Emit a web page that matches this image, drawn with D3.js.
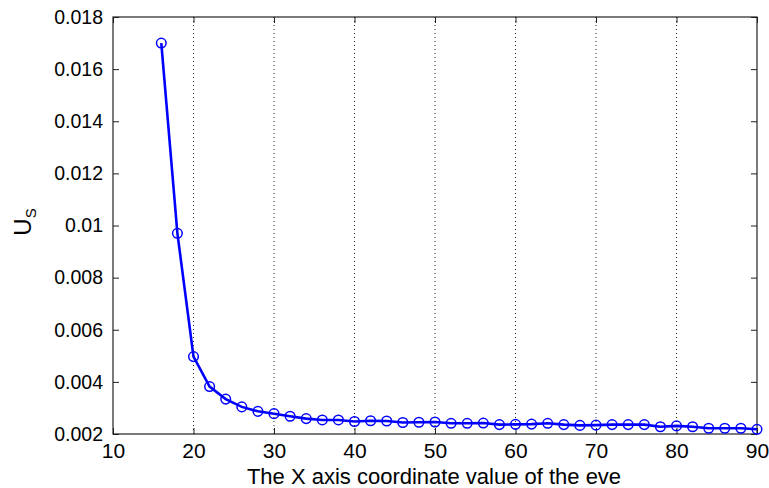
<!DOCTYPE html>
<html><head><meta charset="utf-8">
<script src="https://cdn.jsdelivr.net/npm/d3@7"></script>
<style>body{margin:0;background:#fff}svg{display:block}text{font-family:"Liberation Sans",Arial,sans-serif}</style>
</head><body><svg id="c" width="769" height="488"></svg>
<script>
const xValues = [16,18,20,22,24,26,28,30,32,34,36,38,40,42,44,46,48,50,52,54,56,58,60,62,64,66,68,70,72,74,76,78,80,82,84,86,88,90];
const usValues = [0.01700,0.00970,0.00497,0.00382,0.00334,0.00304,0.00287,0.00278,0.00268,0.00259,0.00254,0.00254,0.00248,0.00251,0.00250,0.00244,0.00245,0.00246,0.00241,0.00241,0.00242,0.00236,0.00237,0.00238,0.00241,0.00236,0.00233,0.00234,0.00236,0.00236,0.00236,0.00228,0.00231,0.00228,0.00222,0.00222,0.00222,0.00218];
const xTicks = [10,20,30,40,50,60,70,80,90];
const yTicks = [0.002,0.004,0.006,0.008,0.01,0.012,0.014,0.016,0.018];
const xLabel = "The X axis coordinate value of the eve";

const svg = d3.select("#c");
const L=113, R=757, T=17, B=434;
const x = d3.scaleLinear().domain([10,90]).range([L,R]);
const y = d3.scaleLinear().domain([0.002,0.018]).range([B,T]);

// grid
svg.append("g").selectAll("line").data(xTicks.slice(1,-1)).join("line")
  .attr("x1",d=>x(d)).attr("x2",d=>x(d)).attr("y1",T).attr("y2",B)
  .attr("stroke","#222").attr("stroke-width",1).attr("stroke-dasharray","1,3");

const fmt = d => String(+d.toFixed(3));
const tl = 6;
svg.append("g").attr("transform",`translate(0,${B})`)
  .call(d3.axisBottom(x).tickValues(xTicks).tickSizeInner(-tl).tickSizeOuter(0).tickPadding(9))
  .call(g=>{g.select(".domain").remove();g.selectAll("text").attr("font-size",21).attr("fill","#000");});
svg.append("g").attr("transform",`translate(0,${T})`)
  .call(d3.axisTop(x).tickValues(xTicks).tickSizeInner(-tl).tickSizeOuter(0).tickFormat(""))
  .call(g=>g.select(".domain").remove());
svg.append("g").attr("transform",`translate(${L},0)`)
  .call(d3.axisLeft(y).tickValues(yTicks).tickSizeInner(-tl).tickSizeOuter(0).tickPadding(10).tickFormat(fmt))
  .call(g=>{g.select(".domain").remove();g.selectAll("text").attr("font-size",19.5).attr("fill","#000");});
svg.append("g").attr("transform",`translate(${R},0)`)
  .call(d3.axisRight(y).tickValues(yTicks).tickSizeInner(-tl).tickSizeOuter(0).tickFormat(""))
  .call(g=>g.select(".domain").remove());
svg.selectAll(".tick line").attr("stroke","#222");

svg.append("rect").attr("x",L).attr("y",T).attr("width",R-L).attr("height",B-T)
  .attr("fill","none").attr("stroke","#222").attr("stroke-width",1.2);

const data = xValues.map((v,i)=>[v,usValues[i]]);
svg.append("path").datum(data)
  .attr("d",d3.line().x(d=>x(d[0])).y(d=>y(d[1])))
  .attr("fill","none").attr("stroke","#0000ff").attr("stroke-width",2.6);
svg.append("g").selectAll("circle").data(data).join("circle")
  .attr("cx",d=>x(d[0])).attr("cy",d=>y(d[1])).attr("r",4.8)
  .attr("fill","none").attr("stroke","#0000ff").attr("stroke-width",1.5);

svg.append("text").attr("x",434).attr("y",484).attr("text-anchor","middle")
  .attr("font-size",22).attr("fill","#000").text(xLabel);
const yl = svg.append("text").attr("transform","translate(31,222) rotate(-90)")
  .attr("text-anchor","middle").attr("fill","#000").attr("font-size",24);
yl.append("tspan").text("U");
yl.append("tspan").attr("font-size",15).attr("dy",5).text("S");
</script></body></html>
